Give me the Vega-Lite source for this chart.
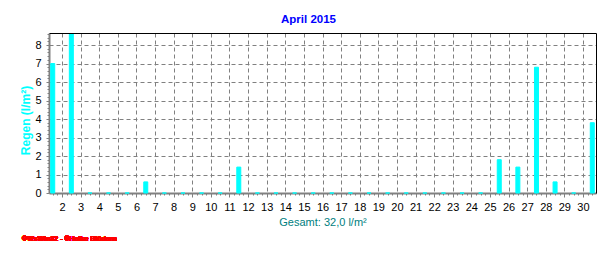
{
  "$schema": "https://vega.github.io/schema/vega-lite/v6.json",
  "width": 547,
  "height": 160,
  "autosize": {"type": "none"},
  "padding": {"left": 49, "top": 33, "right": 20, "bottom": 60},
  "background": "white",
  "title": {"text": "April 2015", "color": "#0000ff", "font": "Liberation Sans", "fontSize": 11.5, "fontWeight": "bold", "anchor": "middle", "dx": -14, "offset": 8},
  "config": {
    "view": {"stroke": null},
    "axis": {"labelFont": "Liberation Sans", "titleFont": "Liberation Sans", "labelFontSize": 11, "labelColor": "#000000"}
  },
  "data": {"values": [
    {"day": 1, "rain": 7.0}, {"day": 2, "rain": 8.6}, {"day": 3, "rain": 0}, {"day": 4, "rain": 0},
    {"day": 5, "rain": 0}, {"day": 6, "rain": 0.6}, {"day": 7, "rain": 0}, {"day": 8, "rain": 0},
    {"day": 9, "rain": 0}, {"day": 10, "rain": 0}, {"day": 11, "rain": 1.4}, {"day": 12, "rain": 0},
    {"day": 13, "rain": 0}, {"day": 14, "rain": 0}, {"day": 15, "rain": 0}, {"day": 16, "rain": 0},
    {"day": 17, "rain": 0}, {"day": 18, "rain": 0}, {"day": 19, "rain": 0}, {"day": 20, "rain": 0},
    {"day": 21, "rain": 0}, {"day": 22, "rain": 0}, {"day": 23, "rain": 0}, {"day": 24, "rain": 0},
    {"day": 25, "rain": 1.8}, {"day": 26, "rain": 1.4}, {"day": 27, "rain": 6.8}, {"day": 28, "rain": 0.6},
    {"day": 29, "rain": 0}, {"day": 30, "rain": 3.8}
  ]},
  "layer": [
    {
      "mark": {"type": "bar", "color": "#00ffff", "size": 4, "stroke": "#00ffff", "strokeWidth": 1, "xOffset": 9.31},
      "encoding": {
        "x": {"field": "day", "type": "quantitative",
          "scale": {"domain": [1.3, 30.7], "nice": false, "zero": false, "padding": 0},
          "axis": {"values": [2,3,4,5,6,7,8,9,10,11,12,13,14,15,16,17,18,19,20,21,22,23,24,25,26,27,28,29,30],
            "grid": true, "gridColor": "#808080", "gridDash": [4, 3], "gridWidth": 1,
            "domainColor": "#808080", "domainWidth": 2, "tickColor": "#808080", "tickSize": 4, "tickWidth": 1,
            "labelPadding": 4, "labelFlush": false, "labelOverlap": false,
            "title": "Gesamt: 32,0 l/m²", "titleColor": "#008080", "titleFontSize": 11, "titleFontWeight": "normal",
            "titleY": 29, "titleBaseline": "middle"}},
        "y": {"field": "rain", "type": "quantitative",
          "scale": {"domain": [0, 8.65], "nice": false, "zero": false, "padding": 0},
          "axis": {"values": [0,1,2,3,4,5,6,7,8],
            "grid": true, "gridColor": "#808080", "gridDash": [4, 3], "gridWidth": 1,
            "domainColor": "#808080", "domainWidth": 2, "tickColor": "#808080", "tickSize": 3, "tickWidth": 1,
            "labelPadding": 5,
            "title": "Regen (l/m²)", "titleColor": "#00ffff", "titleFontSize": 12, "titleFontWeight": "bold",
            "titleAngle": -90, "titleX": -24, "titleY": 87, "titleAlign": "center", "titleBaseline": "middle"}}
      }
    },
    {
      "mark": {"type": "text", "text": "©WsWin32 - ©Heike Blödern", "color": "#ff0000", "font": "Liberation Sans", "fontSize": 7, "fontWeight": "bold", "align": "left", "baseline": "middle"},
      "encoding": {
        "x": {"datum": -0.15, "type": "quantitative",
          "scale": {"domain": [1.3, 30.7], "nice": false, "zero": false, "padding": 0},
          "axis": {"orient": "bottom", "values": [1.5,1.75,2,2.25,2.5,2.75,3,3.25,3.5,3.75,4,4.25,4.5,4.75,5,5.25,5.5,5.75,6,6.25,6.5,6.75,7,7.25,7.5,7.75,8,8.25,8.5,8.75,9,9.25,9.5,9.75,10,10.25,10.5,10.75,11,11.25,11.5,11.75,12,12.25,12.5,12.75,13,13.25,13.5,13.75,14,14.25,14.5,14.75,15,15.25,15.5,15.75,16,16.25,16.5,16.75,17,17.25,17.5,17.75,18,18.25,18.5,18.75,19,19.25,19.5,19.75,20,20.25,20.5,20.75,21,21.25,21.5,21.75,22,22.25,22.5,22.75,23,23.25,23.5,23.75,24,24.25,24.5,24.75,25,25.25,25.5,25.75,26,26.25,26.5,26.75,27,27.25,27.5,27.75,28,28.25,28.5,28.75,29,29.25,29.5,29.75,30,30.25,30.5],
            "domain": false, "grid": false, "labels": false, "tickColor": "#808080", "tickSize": 2, "tickWidth": 1, "title": null}},
        "y": {"datum": -2.47, "type": "quantitative",
          "scale": {"domain": [0, 8.65], "nice": false, "zero": false, "padding": 0},
          "axis": {"orient": "left", "values": [0.2,0.4,0.6,0.8,1,1.2,1.4,1.6,1.8,2,2.2,2.4,2.6,2.8,3,3.2,3.4,3.6,3.8,4,4.2,4.4,4.6,4.8,5,5.2,5.4,5.6,5.8,6,6.2,6.4,6.6,6.8,7,7.2,7.4,7.6,7.8,8,8.2,8.4,8.6],
            "domain": false, "grid": false, "labels": false, "tickColor": "#808080", "tickSize": 2, "tickWidth": 1, "title": null}}
      }
    },
    {
      "mark": {"type": "point", "opacity": 0},
      "encoding": {
        "x": {"datum": 2, "type": "quantitative",
          "scale": {"domain": [1.3, 30.7], "nice": false, "zero": false, "padding": 0},
          "axis": {"orient": "top", "domain": true, "domainColor": "#000000", "domainWidth": 1, "ticks": false, "labels": false, "grid": false, "title": null, "zindex": 1}},
        "y": {"datum": 1, "type": "quantitative",
          "scale": {"domain": [0, 8.65], "nice": false, "zero": false, "padding": 0},
          "axis": {"orient": "right", "domain": true, "domainColor": "#000000", "domainWidth": 1, "ticks": false, "labels": false, "grid": false, "title": null, "zindex": 1}}
      }
    }
  ],
  "resolve": {"axis": {"x": "independent", "y": "independent"}}
}
